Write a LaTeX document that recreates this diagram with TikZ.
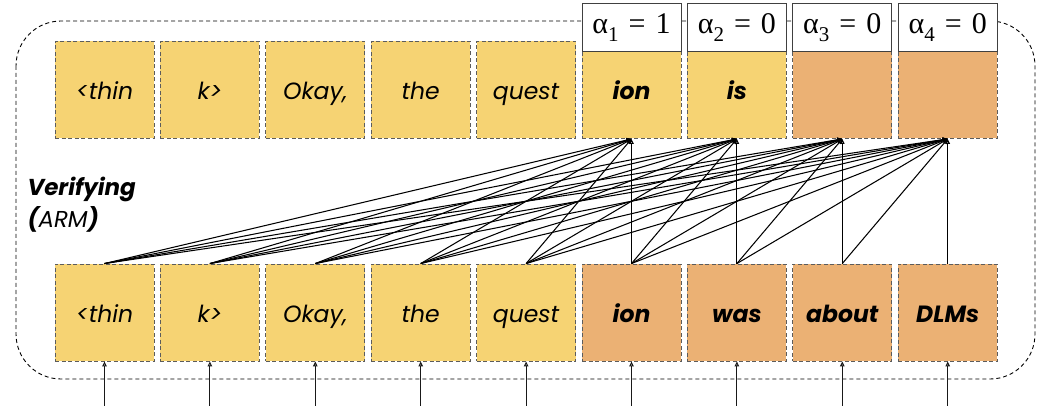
\documentclass[tikz,border=0pt]{standalone}
\usepackage{fontspec}
\setmainfont{Poppins}
\newfontfamily\alphafont{Liberation Serif}
\usetikzlibrary{arrows.meta}
\definecolor{tokyellow}{HTML}{F6D373}
\definecolor{tokorange}{HTML}{EBB174}
\definecolor{tokborder}{HTML}{5C5C5C}
\begin{document}
\begin{tikzpicture}[x=1pt,y=-1pt,
  tokbox/.style={draw=tokborder, line width=0.9pt, dash pattern=on 4pt off 2.5pt,
    minimum width=99pt, minimum height=97pt, inner sep=0pt,
    text height=24pt, text depth=4pt,
    font=\fontsize{23.5}{28}\selectfont\itshape},
  yel/.style={tokbox, fill=tokyellow},
  org/.style={tokbox, fill=tokorange},
  alphabox/.style={draw=black!75, line width=1pt, fill=white, minimum width=99pt,
    minimum height=48pt, inner sep=0pt, font=\fontsize{30}{32}\selectfont\alphafont},
  attn/.style={line width=1.05pt, -{Triangle[open, length=5pt, width=4.5pt]}},
  feed/.style={line width=1.05pt, black!90, -{Triangle[open, length=5pt, width=4.5pt]}},
  frame/.style={line width=0.9pt, dash pattern=on 4pt off 3pt, rounded corners=45pt}
]
\useasboundingbox (0,0) rectangle (1039,406);

% outer verification frame
\draw[frame] (16,21) rectangle (1035,379);

% label
\node[anchor=west, align=left, font=\fontsize{23}{32}\selectfont\itshape] (lbl) at (24,205)
  {\textbf{Verifying}\\\textbf{(}ARM\textbf{)}};

% top row (outputs)
\node[yel] (t0) at (104.5,90) {<thin};
\node[yel] (t1) at (209.9,90) {k>};
\node[yel] (t2) at (315.3,90) {Okay,};
\node[yel] (t3) at (420.7,90) {the};
\node[yel] (t4) at (526.1,90) {quest};
\node[yel] (t5) at (631.5,90) {\bfseries ion};
\node[yel] (t6) at (736.9,90) {\bfseries is};
\node[org] (t7) at (842.3,90) {};
\node[org] (t8) at (947.7,90) {};

% bottom row (inputs)
\node[yel] (b0) at (104.5,312.5) {<thin};
\node[yel] (b1) at (209.9,312.5) {k>};
\node[yel] (b2) at (315.3,312.5) {Okay,};
\node[yel] (b3) at (420.7,312.5) {the};
\node[yel] (b4) at (526.1,312.5) {quest};
\node[org] (b5) at (631.5,312.5) {\bfseries ion};
\node[org] (b6) at (736.9,312.5) {\bfseries was};
\node[org] (b7) at (842.3,312.5) {\bfseries about};
\node[org] (b8) at (947.7,312.5) {\bfseries DLMs};

% acceptance flags
\newcommand\alphasub[1]{\raisebox{-8pt}{\fontsize{21}{21}\selectfont #1}}
\node[alphabox] (a1) at (631.5,28) {α\alphasub{1}\,\,=\,\,1};
\node[alphabox] (a2) at (736.9,28) {α\alphasub{2}\,\,=\,\,0};
\node[alphabox] (a3) at (842.3,28) {α\alphasub{3}\,\,=\,\,0};
\node[alphabox] (a4) at (947.7,28) {α\alphasub{4}\,\,=\,\,0};

% causal attention from inputs to the drafted positions
\foreach \i in {5,...,8}{
  \foreach \j in {0,...,\i}{
    \draw[attn] (b\j.north) -- (t\i.south);
  }
}

% incoming token embeddings
\foreach \j/\x in {0/104.5,1/209.9,2/315.3,3/420.7,4/526.1,5/631.5,6/736.9,7/842.3,8/947.7}{
  \coordinate (in\j) at (\x,406);
  \draw[feed] (in\j) -- (b\j.south);
}
\end{tikzpicture}
\end{document}
